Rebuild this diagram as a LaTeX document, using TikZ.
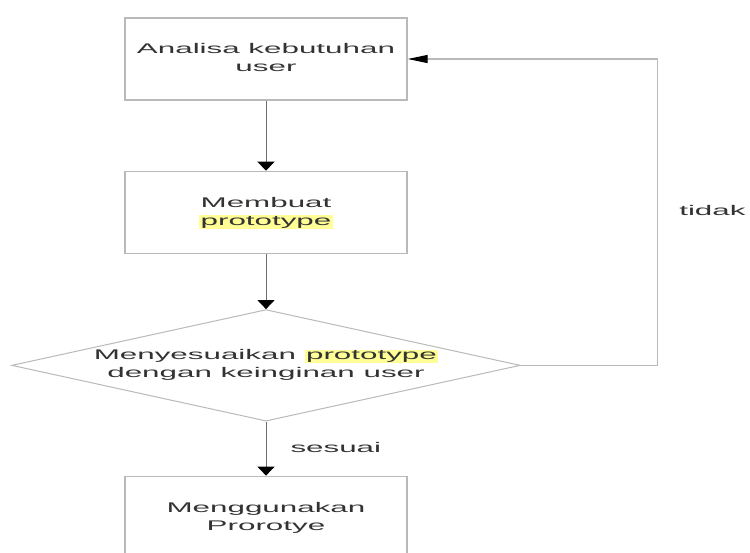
\documentclass[tikz,border=0pt]{standalone}
\usepackage{fontspec}
\setmainfont{Liberation Sans}
\usepackage{graphicx}
\usetikzlibrary{arrows.meta, calc, positioning, shapes.geometric}
\definecolor{hlyellow}{RGB}{255,255,150}
\newcommand{\widetext}[1]{\scalebox{2.24}[1]{\begin{tabular}{@{}c@{}}#1\end{tabular}}}
\newcommand{\hlword}[1]{{\setlength{\fboxsep}{0.6pt}\colorbox{hlyellow}{#1}}}

\begin{document}
\begin{tikzpicture}
        [x=1pt, y=1pt,
         boxsty/.style={rectangle,
                        inner sep=0pt,
                        minimum width=282pt,
                        minimum height=82pt,
                        line width=1.4pt,
                        draw=gray!55,
                        text=black!80,
                        font=\fontsize{14}{18}\selectfont},
         decsty/.style={diamond,
                        aspect=4.56,
                        inner sep=0pt,
                        minimum width=506pt,
                        minimum height=111pt,
                        line width=1pt,
                        draw=gray!55,
                        text=black!80,
                        font=\fontsize{14}{18}\selectfont},
         labsty/.style={inner sep=0pt,
                        text=black!80,
                        font=\fontsize{14}{18}\selectfont},
         pre/.style={<-, >={Triangle[width=17pt, length=9pt, color=black]},
                     line width=1pt, draw=gray!85!black},
         post/.style={->, >={Triangle[width=8pt, length=20pt, color=black]},
                      line width=1.2pt, draw=gray!55}]

        \useasboundingbox (0,0) rectangle (750,-552);

        \node[boxsty] (analisa) at (266,-59) {\widetext{Analisa kebutuhan\\user}};

        \node[boxsty, below=70pt of analisa] (membuat) {\widetext{Membuat\\\hlword{prototype}}}
                edge [pre] (analisa);

        \node[decsty, below=55pt of membuat] (sesuaikan)
                {\widetext{Menyesuaikan \hlword{prototype}\\dengan keinginan user}}
                edge [pre] (membuat);

        \node[boxsty, minimum height=84pt, below=54pt of sesuaikan] (gunakan)
                {\widetext{Menggunakan\\Prorotye}}
                edge [pre] node[labsty, right=24pt] {\widetext{sesuai}} (sesuaikan);

        % jalur balik ke analisa
        \coordinate (loop corner) at ($(analisa.east) + (250pt, 0pt)$);
        \draw[post] (sesuaikan.east) -| node[labsty, pos=0.75, right=21pt] {\widetext{tidak}} (loop corner)
                -- (analisa.east);
\end{tikzpicture}
\end{document}
